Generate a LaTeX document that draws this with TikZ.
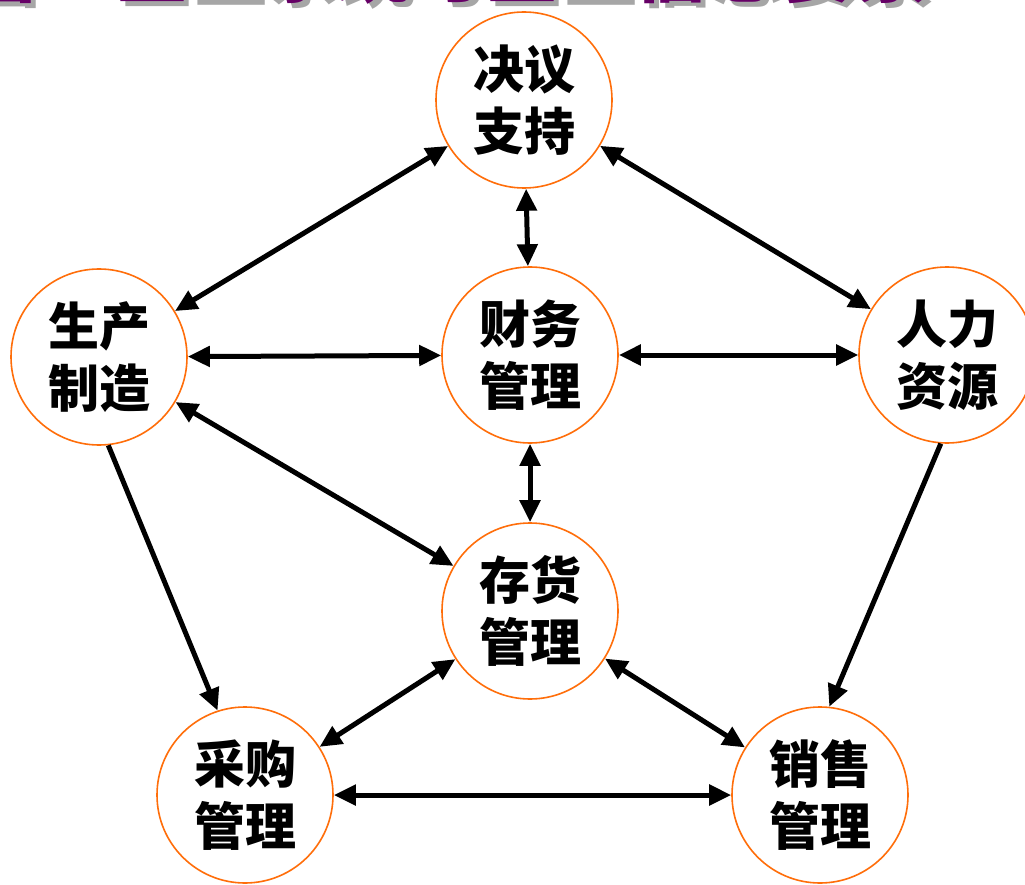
\documentclass[tikz,border=0pt]{standalone}
\usepackage{fontspec}
\setmainfont{Noto Sans CJK SC}
\usetikzlibrary{arrows.meta}
\definecolor{ringorange}{RGB}{255,110,10}
\definecolor{titlepurple}{RGB}{102,0,102}
\tikzset{
  module/.style={circle, draw=ringorange, line width=1.6pt, minimum size=176pt, inner sep=0pt,
    align=center, font=\fontsize{51}{62}\selectfont\bfseries, text=black},
  link/.style={line width=5pt, draw=black, {Triangle[length=22pt,width=20pt]}-{Triangle[length=22pt,width=20pt]}},
  onelink/.style={line width=5pt, draw=black, -{Triangle[length=22pt,width=20pt]}},
  titletext/.style={font=\fontsize{74}{74}\selectfont\bfseries, inner sep=0pt, anchor=base west}
}
\begin{document}
\begin{tikzpicture}[x=1pt,y=-1pt]
\clip (0,0) rectangle (1025,885);
\fill[white] (0,0) rectangle (1025,885);
% clipped title
\node[titletext, text=black!35] (titleshadow) at (-28,2) {营·企业系统与企业信息要素};
\node[titletext, text=titlepurple] (title) at (-33,-3) {营·企业系统与企业信息要素};
% modules
\node[module] (jc) at (524,100) {决议\\支持};
\node[module] (sc) at (99,357) {生产\\制造};
\node[module] (cw) at (530,355) {财务\\管理};
\node[module] (rl) at (947,355) {人力\\资源};
\node[module] (ch) at (530,611) {存货\\管理};
\node[module] (cg) at (245,795) {采购\\管理};
\node[module] (xs) at (820,795) {销售\\管理};
% connectors
\draw[link] (jc) -- (sc);
\draw[link] (jc) -- (cw);
\draw[link] (jc) -- (rl);
\draw[link] (sc) -- (cw);
\draw[link] (cw) -- (rl);
\draw[link] (sc) -- (ch);
\draw[link] (cw) -- (ch);
\draw[link] (ch) -- (cg);
\draw[link] (ch) -- (xs);
\draw[link] (cg) -- (xs);
\draw[onelink] (sc.-84) -- (cg.108);
\draw[onelink] (rl.-94) -- (xs.84);
\end{tikzpicture}
\end{document}
